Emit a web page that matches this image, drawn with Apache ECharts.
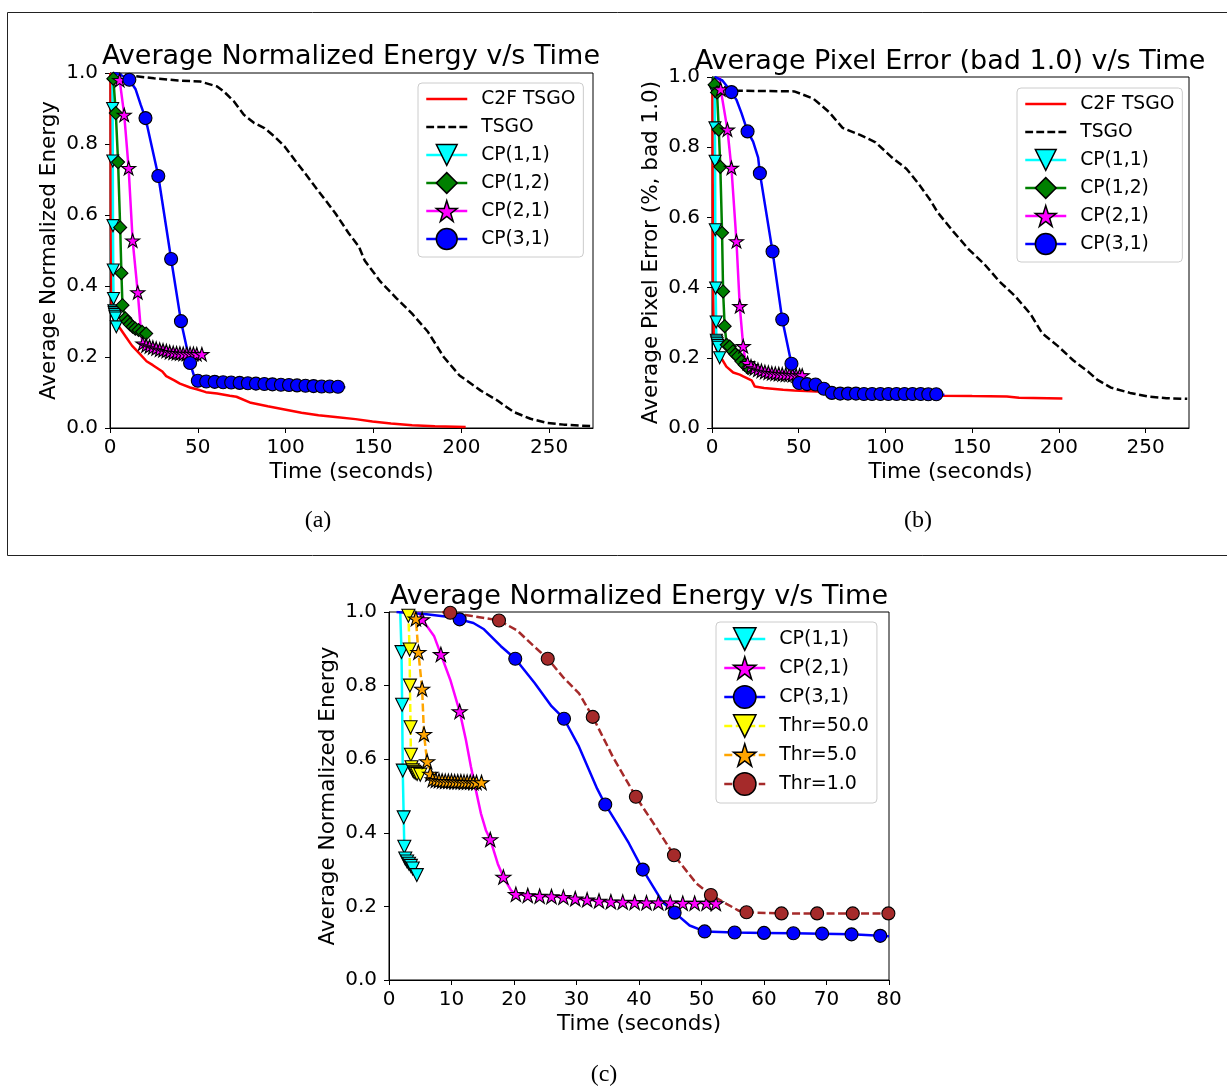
<!DOCTYPE html>
<html><head><meta charset="utf-8">
<script src="https://cdn.jsdelivr.net/npm/echarts@6/dist/echarts.min.js"></script>
<style>html,body{margin:0;padding:0;background:#fff}#c{width:1227px;height:1088px}</style>
</head><body><div id="c"></div><script>
// ---------- tick labels ----------
const xTicksAB = [0, 50, 100, 150, 200, 250];
const xTicksC = [0, 10, 20, 30, 40, 50, 60, 70, 80];
const yTicks = [0, 0.2, 0.4, 0.6, 0.8, 1.0];

// ---------- (a) Average Normalized Energy v/s Time ----------
const a_c2f = [[0.3,1.0],[0.5,0.6],[1.0,0.34],[2.3,0.3],[5,0.286],[9,0.257],[12.5,0.232],[16.7,0.21],[20.8,0.188],[24.4,0.177],[29.8,0.159],[32,0.146],[36.6,0.134],[39.8,0.125],[45.6,0.114],[49.4,0.109],[54.6,0.101],[61,0.097],[68.2,0.091],[72,0.088],[80.2,0.071],[89.8,0.061],[99.4,0.052],[109,0.043],[118.7,0.036],[128.3,0.031],[139.8,0.025],[149.4,0.018],[160,0.013],[172,0.008],[185,0.005],[202.5,0.003]];
const a_tsgo = [[2,1.0],[12.9,0.992],[25,0.985],[38.8,0.979],[51.3,0.976],[61,0.962],[64.8,0.948],[70.6,0.92],[76.3,0.882],[82.1,0.859],[87.9,0.845],[93.7,0.821],[99.4,0.793],[105.2,0.755],[111,0.718],[116.7,0.68],[122.5,0.643],[128.3,0.605],[136,0.548],[141.7,0.511],[145,0.472],[154,0.412],[163,0.366],[172,0.322],[181,0.271],[190,0.2],[199,0.148],[210.9,0.106],[220.4,0.078],[229.9,0.045],[239.4,0.026],[248.9,0.014],[258.4,0.0095],[275,0.005]];
const a_cp11_line = [[1.4,1.0]];
const a_cp11_mark = [[1.5,0.9],[1.6,0.752],[1.7,0.57],[1.85,0.445],[2.0,0.365],[2.2,0.33],[2.4,0.325],[2.6,0.32],[2.8,0.315],[3.1,0.31],[3.6,0.285]];
const a_cp12_line = [[1.2,1.0]];
const a_cp12_mark = [[1.9,0.984],[3.3,0.887],[4.6,0.749],[5.8,0.565],[6.5,0.436],[7.1,0.346],[8.7,0.309],[10,0.3],[11.3,0.292],[12.9,0.285],[14.4,0.28],[16.3,0.276],[18.3,0.271],[20.6,0.266]];
const a_cp21_line = [[4.8,1.0],[17.5,0.28],[18.3,0.245]];
const a_cp21_mark = [[5.5,0.98],[8.1,0.882],[10.6,0.732],[12.9,0.528],[15.8,0.382],[18.7,0.238],[20.6,0.233],[22.5,0.23],[24.4,0.227],[26.3,0.224],[28.3,0.221],[30.2,0.219],[32.1,0.217],[34,0.214],[36,0.212],[37.9,0.211],[39.8,0.21],[41.7,0.209],[43.7,0.209],[45.6,0.209],[47.5,0.209],[49.4,0.208],[52.3,0.208]];
const a_cp31_line = [[2,1.0],[6,0.995],[14.5,0.955],[17.5,0.91],[48.5,0.136],[134,0.115]];
const a_cp31_mark = [[11,0.981],[20.2,0.873],[27.5,0.71],[34.8,0.476],[40.4,0.301],[45.6,0.183],[50,0.133],[54.8,0.131],[59.6,0.13],[64.4,0.129],[69,0.128],[73.8,0.127],[78.5,0.126],[83.1,0.125],[87.9,0.124],[92.5,0.123],[97.3,0.122],[101.9,0.121],[106.5,0.12],[111.3,0.119],[115.9,0.118],[120.5,0.117],[125.1,0.117],[129.8,0.116]];

// ---------- (b) Average Pixel Error (bad 1.0) v/s Time ----------
const b_c2f = [[0.3,0.98],[0.5,0.5],[1.0,0.26],[2.5,0.225],[4.9,0.203],[8.3,0.175],[12.2,0.158],[16,0.152],[18,0.147],[22.8,0.136],[23.7,0.128],[24.7,0.118],[30,0.114],[41,0.109],[47.4,0.107],[60.4,0.104],[81,0.099],[103,0.095],[132,0.092],[150,0.091],[170,0.09],[177,0.086],[202,0.084]];
const b_tsgo = [[1.5,0.99],[5,0.975],[13.8,0.961],[30,0.96],[47.4,0.959],[51.8,0.951],[58.5,0.938],[67.5,0.9],[75.3,0.855],[85.3,0.835],[94.3,0.814],[103.2,0.773],[112.2,0.738],[118.9,0.697],[125.6,0.651],[130,0.615],[139,0.56],[148,0.509],[156.8,0.468],[165.8,0.417],[174.7,0.376],[183.6,0.325],[190.3,0.27],[199.3,0.234],[208.2,0.193],[217,0.16],[222,0.138],[230,0.115],[241,0.1],[251,0.09],[262,0.085],[274,0.083]];
const b_cp11_line = [[1.2,1.0]];
const b_cp11_mark = [[1.6,0.96],[1.7,0.855],[1.8,0.76],[1.9,0.565],[2.1,0.399],[2.4,0.302],[2.5,0.25],[2.7,0.245],[3.0,0.24],[3.3,0.235],[3.6,0.23],[4.4,0.2]];
const b_cp12_line = [[1.0,1.0]];
const b_cp12_mark = [[1.5,0.978],[2.9,0.956],[3.9,0.85],[4.8,0.744],[5.8,0.556],[6.4,0.389],[7.3,0.29],[8.5,0.237],[10.2,0.232],[12.1,0.218],[13.5,0.21],[15,0.204],[17,0.19],[18.8,0.18],[20.8,0.171]];
const b_cp21_line = [[4.3,1.0],[19,0.2]];
const b_cp21_mark = [[5,0.965],[8.9,0.85],[11.2,0.741],[14.1,0.532],[16,0.347],[18,0.233],[20.5,0.185],[22.5,0.176],[24.5,0.17],[26.5,0.166],[28.5,0.163],[30.5,0.16],[32.5,0.158],[34.5,0.156],[36.5,0.155],[38.5,0.154],[40.5,0.153],[42.5,0.152],[44.5,0.152],[46.5,0.151],[48.5,0.15],[50.5,0.15],[52,0.15]];
const b_cp31_line = [[1.5,1.0],[6,0.99],[14.1,0.935],[17,0.897],[23.7,0.816],[26.6,0.77],[48,0.14],[134,0.095]];
const b_cp31_mark = [[11.2,0.957],[20.5,0.845],[27.6,0.726],[34.9,0.503],[40.5,0.309],[45.8,0.183],[50.2,0.128],[54.8,0.125],[59.7,0.124],[64.5,0.112],[69.1,0.1],[73.9,0.098],[78.4,0.098],[83,0.098],[87.6,0.097],[92.3,0.097],[97.1,0.097],[101.7,0.097],[106.4,0.097],[111,0.097],[115.6,0.097],[120.3,0.097],[124.7,0.096],[129.3,0.096]];

// ---------- (c) Average Normalized Energy v/s Time (zoom) ----------
const c_cp11_line = [[1.8,1.0]];
const c_cp11_mark = [[2.0,0.891],[2.1,0.748],[2.2,0.569],[2.35,0.442],[2.45,0.362],[2.6,0.33],[2.9,0.322],[3.2,0.316],[3.5,0.31],[3.8,0.303],[4.45,0.285]];
const c_cp21_line = [[4.8,1.0],[7.2,0.935],[9.8,0.816],[12.3,0.653],[13.1,0.58],[13.9,0.516],[14.7,0.453],[15.5,0.407],[17.4,0.316],[19.5,0.244]];
const c_cp21_mark = [[5.3,0.98],[8.3,0.885],[11.3,0.73],[16.2,0.382],[18.3,0.28],[20.3,0.233],[22.2,0.23],[24.1,0.228],[26,0.227],[27.9,0.225],[29.8,0.221],[31.7,0.218],[33.6,0.215],[35.5,0.213],[37.4,0.212],[39.3,0.211],[41.2,0.21],[43.1,0.21],[45,0.21],[47,0.209],[48.9,0.209],[50.8,0.209],[52.3,0.208]];
const c_cp31_line = [[1.2,1.0],[6,0.994],[9,0.988],[13.5,0.97],[15.2,0.953],[17.9,0.907],[23.3,0.807],[26,0.744],[30.4,0.634],[33.3,0.52],[36.5,0.425],[38.4,0.371],[43.8,0.211],[48.1,0.148],[80,0.119]];
const c_cp31_mark = [[11.3,0.98],[20.2,0.873],[28,0.71],[34.6,0.477],[40.6,0.3],[45.7,0.183],[50.5,0.132],[55.3,0.129],[60,0.128],[64.7,0.127],[69.3,0.126],[74,0.124],[78.6,0.12]];
const c_thr50_line = [[3.0,1.0]];
const c_thr50_mark = [[3.1,0.99],[3.3,0.898],[3.35,0.8],[3.45,0.687],[3.5,0.612],[3.6,0.578],[3.8,0.57],[4.0,0.566],[4.2,0.563],[4.5,0.56],[5.0,0.558]];
const c_thr5_line = [[4.0,1.0]];
const c_thr5_mark = [[4.3,0.982],[4.7,0.891],[5.3,0.791],[5.6,0.668],[6.1,0.594],[6.6,0.56],[7.0,0.545],[7.5,0.543],[8.0,0.542],[8.5,0.541],[9.0,0.54],[9.5,0.54],[10,0.54],[10.5,0.539],[11,0.539],[11.5,0.539],[12,0.538],[12.5,0.538],[13,0.538],[13.5,0.537],[14,0.537],[14.8,0.537]];
const c_thr1_line = [[8.5,1.0],[13,0.99],[20.5,0.95],[23,0.91],[28,0.82],[30.4,0.779],[35.8,0.607],[42.7,0.416],[49.2,0.262],[54,0.207],[56,0.188],[80,0.181]];
const c_thr1_mark = [[9.8,0.998],[17.6,0.977],[25.4,0.873],[32.6,0.715],[39.5,0.498],[45.6,0.339],[51.5,0.231],[57.2,0.184],[62.8,0.181],[68.5,0.181],[74.2,0.181],[79.9,0.181]];

// ---------- styling ----------
const FF = 'DejaVu Sans';
const TRI_DOWN = 'path://M0,0L2,0L1,2Z';
const STAR = 'path://M100,0L122.45,69.1L195.1,69.1L136.33,111.8L158.78,180.9L100,138.2L41.22,180.9L63.67,111.8L4.9,69.1L77.55,69.1Z';
const LINE_ICON = 'path://M0,0h40v2.6h-40z';
const DASH_ICON = 'path://M0,0h7.8v2.6h-7.8z M11,0h7.8v2.6h-7.8z M22,0h7.8v2.6h-7.8z M33,0h7.8v2.6h-7.8z';
const DASH = [8, 3.5];
const LW = 2.5;

function merge(line, mark) {
  return line.map(p => ({value: p, symbol: 'none'}))
    .concat(mark.map(p => ({value: p})))
    .sort((a, b) => a.value[0] - b.value[0] || b.value[1] - a.value[1]);
}
function plain(g, name, data, color, dashed) {
  return {type: 'line', name, xAxisIndex: g, yAxisIndex: g, data, symbol: 'none',
    lineStyle: {color, width: LW, type: dashed ? DASH : 'solid'}, itemStyle: {color},
    animation: false, silent: true, emphasis: {disabled: true}};
}
function marked(g, name, line, mark, color, symbol, size, dashed) {
  return {type: 'line', name, xAxisIndex: g, yAxisIndex: g, data: merge(line, mark),
    symbol, symbolSize: size, symbolKeepAspect: true, showAllSymbol: true,
    lineStyle: {color, width: LW, type: dashed ? DASH : 'solid'},
    itemStyle: {color, borderColor: '#000', borderWidth: 1.1},
    animation: false, silent: true, emphasis: {disabled: true}};
}
function xAx(g, max, ticks) {
  return {type: 'value', gridIndex: g, min: 0, max,
    axisLine: {show: true, onZero: false, lineStyle: {color: '#000', width: 1}},
    axisTick: {show: true, length: 5, lineStyle: {color: '#000'}, customValues: ticks},
    axisLabel: {customValues: ticks, margin: 10, fontSize: 20, color: '#000', fontFamily: FF},
    splitLine: {show: false},
    name: 'Time (seconds)', nameLocation: 'middle', nameGap: 33,
    nameTextStyle: {fontSize: 21.5, color: '#000', fontFamily: FF}};
}
function yAx(g, name) {
  return {type: 'value', gridIndex: g, min: 0, max: 1,
    axisLine: {show: true, onZero: false, lineStyle: {color: '#000', width: 1}},
    axisTick: {show: true, length: 5, lineStyle: {color: '#000'}, customValues: yTicks},
    axisLabel: {customValues: yTicks, margin: 12, fontSize: 20, color: '#000', fontFamily: FF,
      formatter: v => Number(v).toFixed(1)},
    splitLine: {show: false},
    name, nameLocation: 'middle', nameGap: 50,
    nameTextStyle: {fontSize: 21.5, color: '#000', fontFamily: FF}};
}
function legend(left, top, data, fs, ih, gap) {
  return {left, top, orient: 'vertical', data, itemWidth: 41, itemHeight: ih, itemGap: gap,
    padding: [3, 8, 5, 7], backgroundColor: 'rgba(255,255,255,0.8)', borderColor: '#ccc',
    borderWidth: 1, borderRadius: 4, selectedMode: false,
    itemStyle: {borderWidth: 1.5},
    lineStyle: {width: LW},
    textStyle: {fontSize: fs, fontFamily: FF, color: '#000', lineHeight: ih, padding: [0, 0, 0, 9]}};
}
const lineItems = [
  {name: 'C2F TSGO', icon: LINE_ICON, itemStyle: {borderWidth: 0}},
  {name: 'TSGO', icon: DASH_ICON, itemStyle: {borderWidth: 0}},
  'CP(1,1)', 'CP(1,2)', 'CP(2,1)', 'CP(3,1)'];

const option = {
  backgroundColor: '#fff',
  animation: false,
  grid: [
    {left: 110, top: 73, width: 483, height: 355, show: true, borderColor: '#000', borderWidth: 1, containLabel: false},
    {left: 712, top: 77, width: 477, height: 351, show: true, borderColor: '#000', borderWidth: 1, containLabel: false},
    {left: 389, top: 612, width: 500, height: 368, show: true, borderColor: '#000', borderWidth: 1, containLabel: false}
  ],
  xAxis: [xAx(0, 275, xTicksAB), xAx(1, 275, xTicksAB), xAx(2, 80, xTicksC)],
  yAxis: [yAx(0, 'Average Normalized Energy'), yAx(1, 'Average Pixel Error (%, bad 1.0)'), yAx(2, 'Average Normalized Energy')],
  legend: [
    legend(418, 83, lineItems, 18.7, 26, 2),
    legend(1017, 88, lineItems, 18.7, 26, 2),
    legend(716, 622, ['CP(1,1)', 'CP(2,1)', 'CP(3,1)', 'Thr=50.0', 'Thr=5.0', 'Thr=1.0'], 19, 28, 1)
  ],
  series: [
    plain(0, 'C2F TSGO', a_c2f, '#ff0000', false),
    plain(0, 'TSGO', a_tsgo, '#000000', true),
    marked(0, 'CP(1,1)', a_cp11_line, a_cp11_mark, '#00ffff', TRI_DOWN, 12, false),
    marked(0, 'CP(1,2)', a_cp12_line, a_cp12_mark, '#008000', 'diamond', 13, false),
    marked(0, 'CP(2,1)', a_cp21_line, a_cp21_mark, '#ff00ff', STAR, 14, false),
    marked(0, 'CP(3,1)', a_cp31_line, a_cp31_mark, '#0000ff', 'circle', 13, false),

    plain(1, 'C2F TSGO', b_c2f, '#ff0000', false),
    plain(1, 'TSGO', b_tsgo, '#000000', true),
    marked(1, 'CP(1,1)', b_cp11_line, b_cp11_mark, '#00ffff', TRI_DOWN, 12, false),
    marked(1, 'CP(1,2)', b_cp12_line, b_cp12_mark, '#008000', 'diamond', 13, false),
    marked(1, 'CP(2,1)', b_cp21_line, b_cp21_mark, '#ff00ff', STAR, 14, false),
    marked(1, 'CP(3,1)', b_cp31_line, b_cp31_mark, '#0000ff', 'circle', 13, false),

    marked(2, 'CP(1,1)', c_cp11_line, c_cp11_mark, '#00ffff', TRI_DOWN, 13, false),
    marked(2, 'CP(2,1)', c_cp21_line, c_cp21_mark, '#ff00ff', STAR, 15, false),
    marked(2, 'CP(3,1)', c_cp31_line, c_cp31_mark, '#0000ff', 'circle', 13, false),
    marked(2, 'Thr=50.0', c_thr50_line, c_thr50_mark, '#ffff00', TRI_DOWN, 13, true),
    marked(2, 'Thr=5.0', c_thr5_line, c_thr5_mark, '#ffa500', STAR, 15, true),
    marked(2, 'Thr=1.0', c_thr1_line, c_thr1_mark, '#a52a2a', 'circle', 13, true)
  ],
  graphic: [
    {type: 'rect', shape: {x: 7.5, y: 12.5, width: 1225, height: 543}, style: {fill: 'none', stroke: '#222', lineWidth: 1}, silent: true},
    {type: 'text', x: 351, y: 57, style: {text: 'Average Normalized Energy v/s Time', font: '27px "DejaVu Sans"', fill: '#000', textAlign: 'center', textVerticalAlign: 'middle'}},
    {type: 'text', x: 950, y: 62, style: {text: 'Average Pixel Error (bad 1.0) v/s Time', font: '27px "DejaVu Sans"', fill: '#000', textAlign: 'center', textVerticalAlign: 'middle'}},
    {type: 'text', x: 639, y: 597, style: {text: 'Average Normalized Energy v/s Time', font: '27px "DejaVu Sans"', fill: '#000', textAlign: 'center', textVerticalAlign: 'middle'}},
    {type: 'text', x: 318, y: 521, style: {text: '(a)', font: '24px "Liberation Serif"', fill: '#000', textAlign: 'center', textVerticalAlign: 'middle'}},
    {type: 'text', x: 918, y: 521, style: {text: '(b)', font: '24px "Liberation Serif"', fill: '#000', textAlign: 'center', textVerticalAlign: 'middle'}},
    {type: 'text', x: 604, y: 1075, style: {text: '(c)', font: '24px "Liberation Serif"', fill: '#000', textAlign: 'center', textVerticalAlign: 'middle'}}
  ]
};
const chart = echarts.init(document.getElementById('c'), null, {renderer: 'canvas'});
chart.setOption(option);
</script></body></html>
